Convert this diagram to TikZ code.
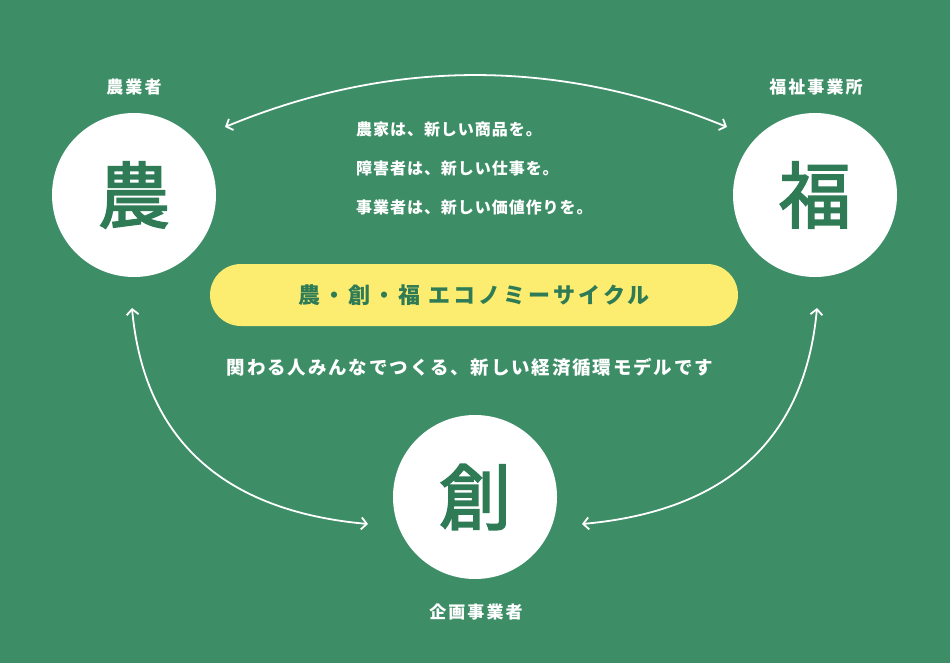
\documentclass[tikz,border=0pt]{standalone}
\usepackage{fontspec}
\newfontfamily\jp{Noto Sans CJK JP}
\usetikzlibrary{arrows.meta}
\usetikzlibrary{positioning}
\definecolor{bggreen}{HTML}{3D8E67}
\definecolor{inkgreen}{HTML}{2F7B56}
\definecolor{pillyellow}{HTML}{FCEC70}
\tikzset{
  bigcircle/.style={circle, fill=white, minimum size=164pt, inner sep=0, text=inkgreen,
    font=\jp\fontsize{72}{72}\selectfont\addfontfeature{FakeBold=2.5}},
  rolelabel/.style={text=white, inner sep=0,
    font=\jp\bfseries\fontsize{17}{17}\selectfont\addfontfeature{LetterSpace=12}},
  cyclearrow/.style={white, line width=1.8pt,
    {Straight Barb[length=5.5pt,width=12pt]}-{Straight Barb[length=5.5pt,width=12pt]}},
}

\begin{document}
\begin{tikzpicture}[x=1pt,y=-1pt]
\fill[bggreen] (0,0) rectangle (950,663);
\useasboundingbox (0,0) rectangle (950,663);

% the three partners
\node[bigcircle] (no) at (134,195) {農};
\node[bigcircle] (fuku) at (815,195) {福};
\node[bigcircle] (sou) at (475,497) {創};

\node[rolelabel] (nolabel) at (134,87) {農業者};
\node[rolelabel] (fukulabel) at (816,87) {福祉事業所};
\node[rolelabel] (soulabel) at (476,612) {企画事業者};

% centre texts
\node[anchor=west, align=left, text=white, inner sep=0,
  font=\jp\bfseries\fontsize{16}{39}\selectfont\addfontfeature{LetterSpace=6}] (lines) at (356,168)
  {農家は、新しい商品を。\\障害者は、新しい仕事を。\\事業者は、新しい価値作りを。};

\node[fill=pillyellow, rounded corners=31pt, minimum width=528pt, minimum height=62pt,
  text=inkgreen, font=\jp\bfseries\fontsize{22}{22}\selectfont\addfontfeature{LetterSpace=14}] (pill) at (474,295)
  {農・創・福 エコノミーサイクル};

\node[text=white, inner sep=0,
  font=\jp\bfseries\fontsize{18.5}{18.5}\selectfont\addfontfeature{LetterSpace=10}] (motto) at (470,367)
  {関わる人みんなでつくる、新しい経済循環モデルです};

% arrow ends
\coordinate (topl) at (225,127);
\coordinate (topr) at (727,127);
\coordinate (leftup) at (132,308);
\coordinate (leftdown) at (368,524);
\coordinate (rightup) at (817,308);
\coordinate (rightdown) at (582,524);

\draw[cyclearrow] (topl) .. controls (392,58) and (558,58) .. (topr);
\draw[cyclearrow] (leftup) .. controls (144,439) and (223,511) .. (leftdown);
\draw[cyclearrow] (rightup) .. controls (805,439) and (727,511) .. (rightdown);
\end{tikzpicture}
\end{document}
